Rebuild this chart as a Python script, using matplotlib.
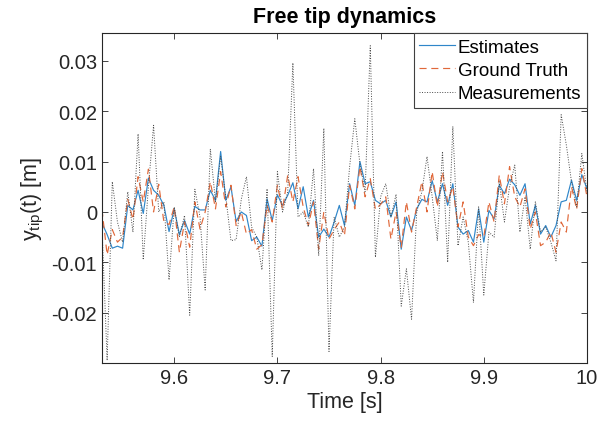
import numpy as np
import matplotlib
matplotlib.use('Agg')
import matplotlib.pyplot as plt

plt.rcParams['font.family'] = ['Liberation Sans', 'DejaVu Sans']
plt.rcParams['mathtext.default'] = 'regular'
plt.rcParams['axes.unicode_minus'] = False

# sampled every 5 ms from 9.53 s to 10 s
t = np.linspace(9.53, 10.0, 95)

estimates = [
    -0.0022, -0.0045, -0.0072, -0.0068, -0.0072, 0.0013, 0.0004, 0.0043, -0.0003, 0.0067,
    0.0043, 0.0033, 0.0013, -0.0039, 0.0006, -0.0045, -0.0017, -0.0044, 0.0011, 0.0004,
    0.0004, 0.0043, 0.0023, 0.0120, 0.0023, 0.0050, -0.0019, 0.0000, -0.0007, -0.0057,
    -0.0050, -0.0068, 0.0026, -0.0017, 0.0034, 0.0013, 0.0033, 0.0058, 0.0006, 0.0050,
    -0.0010, 0.0023, -0.0050, -0.0034, -0.0050, -0.0020, 0.0013, -0.0027, 0.0056, 0.0013,
    0.0100, 0.0056, 0.0060, 0.0023, 0.0016, 0.0023, -0.0010, 0.0020, -0.0074, -0.0010,
    -0.0037, 0.0006, 0.0025, 0.0020, 0.0062, 0.0020, 0.0056, 0.0013, 0.0056, -0.0030,
    -0.0044, -0.0037, -0.0060, 0.0006, -0.0060, 0.0003, -0.0014, 0.0053, 0.0036, 0.0065,
    0.0054, 0.0033, 0.0056, -0.0024, 0.0013, -0.0044, -0.0027, -0.0050, -0.0027, 0.0020,
    0.0023, 0.0063, 0.0023, 0.0074, 0.0046]

ground_truth = [
    0.0005, -0.0085, -0.0035, -0.0060, -0.0050, 0.0025, -0.0015, 0.0070, 0.0020, 0.0085,
    0.0000, 0.0055, -0.0020, -0.0025, 0.0010, -0.0080, -0.0020, -0.0070, 0.0020, -0.0034,
    0.0000, 0.0060, 0.0006, 0.0080, 0.0010, 0.0053, -0.0027, 0.0000, -0.0044, -0.0035,
    -0.0074, -0.0065, 0.0013, -0.0020, 0.0053, 0.0005, 0.0073, 0.0020, 0.0070, 0.0010,
    -0.0027, 0.0020, -0.0074, 0.0000, -0.0054, -0.0035, -0.0020, -0.0047, 0.0053, 0.0006,
    0.0090, 0.0030, 0.0066, 0.0005, 0.0015, 0.0030, -0.0054, 0.0000, -0.0070, 0.0020,
    -0.0040, 0.0010, 0.0060, 0.0000, 0.0080, 0.0010, 0.0080, 0.0020, 0.0050, -0.0030,
    0.0020, -0.0050, -0.0067, -0.0045, -0.0050, 0.0020, -0.0020, 0.0073, 0.0016, 0.0090,
    0.0030, 0.0010, 0.0046, -0.0034, 0.0000, -0.0067, -0.0060, -0.0040, -0.0080, -0.0020,
    -0.0040, 0.0050, 0.0005, 0.0086, 0.0030]

measurements = [
    -0.0030, -0.0295, 0.0060, -0.0020, -0.0060, 0.0040, -0.0040, 0.0155, -0.0095, 0.0050,
    0.0172, 0.0000, 0.0020, -0.0135, 0.0010, -0.0050, -0.0007, -0.0205, 0.0045, -0.0010,
    -0.0155, 0.0125, 0.0020, 0.0110, 0.0030, -0.0057, -0.0055, 0.0025, 0.0070, -0.0030,
    -0.0050, -0.0115, 0.0046, -0.0287, 0.0080, 0.0000, 0.0040, 0.0296, -0.0010, 0.0000,
    -0.0030, 0.0086, -0.0087, 0.0166, -0.0277, -0.0010, -0.0050, -0.0030, 0.0090, 0.0185,
    0.0095, 0.0040, 0.0330, -0.0090, 0.0030, 0.0056, -0.0010, 0.0035, -0.0187, -0.0113,
    -0.0213, 0.0000, 0.0040, 0.0110, 0.0030, -0.0057, 0.0120, -0.0100, 0.0170, -0.0067,
    -0.0010, -0.0060, -0.0180, 0.0010, -0.0165, -0.0040, -0.0050, 0.0060, -0.0020, 0.0050,
    0.0093, -0.0040, 0.0030, -0.0074, 0.0020, -0.0040, -0.0030, -0.0060, -0.0097, 0.0193,
    0.0133, 0.0060, 0.0010, 0.0116, 0.0040]

xticks = [9.6, 9.7, 9.8, 9.9, 10]
xticklabels = ['9.6', '9.7', '9.8', '9.9', '10']
yticks = [-0.02, -0.01, 0, 0.01, 0.02, 0.03]
yticklabels = ['-0.02', '-0.01', '0', '0.01', '0.02', '0.03']

fig = plt.figure(figsize=(6.07, 4.27), dpi=100)
ax = fig.add_axes([0.168, 0.1475, 0.799, 0.7725])

ax.plot(t, estimates, color='#2F86C9', linewidth=0.85, label='Estimates')
ax.plot(t, ground_truth, color='#E0683A', linewidth=0.85, linestyle=(0, (6, 4)),
        label='Ground Truth')
ax.plot(t, measurements, color='#4A4A4A', linewidth=0.7, linestyle=(0, (1, 1.6)),
        label='Measurements')

ax.set_xlim(9.53, 10.0)
ax.set_ylim(-0.030, 0.0355)
ax.set_xticks(xticks)
ax.set_xticklabels(xticklabels)
ax.set_yticks(yticks)
ax.set_yticklabels(yticklabels)

ax.tick_params(direction='in', top=True, right=True, length=4, width=0.6,
               labelsize=14.5, colors='#262626')
for s in ax.spines.values():
    s.set_color('#262626')
    s.set_linewidth(0.8)

ax.set_xlabel('Time [s]', fontsize=15.5, color='#262626', labelpad=3)
ax.set_ylabel('y$_{tip}$(t) [m]', fontsize=15.5, color='#262626', labelpad=4)
ax.set_title('Free tip dynamics', fontsize=15.5, fontweight='bold', pad=8)

leg = ax.legend(loc='upper right', borderaxespad=0, fontsize=13.5, fancybox=False,
                framealpha=1, edgecolor='#404040', handlelength=1.9,
                handletextpad=0.15, labelspacing=0.32, borderpad=0.3)
leg.get_frame().set_linewidth(0.8)

fig.savefig('out.png', dpi=100)
